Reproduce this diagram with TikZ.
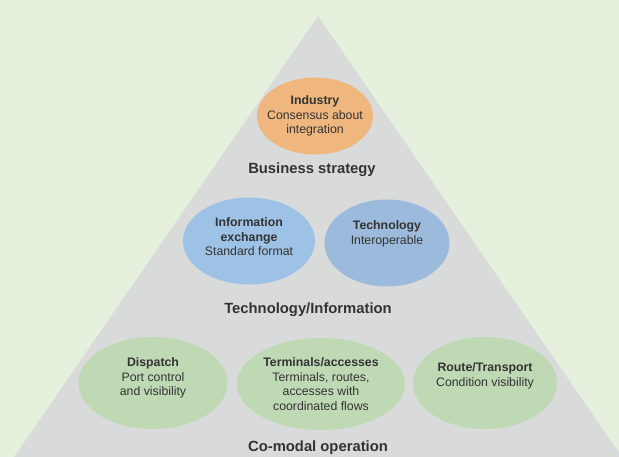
\documentclass[tikz,border=0pt]{standalone}
\usepackage{fontspec}
\setmainfont{Liberation Sans}
\usetikzlibrary{shapes.geometric}
\usetikzlibrary{positioning}
\definecolor{bggreen}{HTML}{E5F1DC}
\definecolor{pyrgray}{HTML}{D9DADA}
\definecolor{indorange}{HTML}{EFB67E}
\definecolor{infoblue}{HTML}{9EC2E6}
\definecolor{techblue}{HTML}{9CBADB}
\definecolor{opgreen}{HTML}{BFD9B5}
\definecolor{txtgray}{HTML}{333333}
\tikzstyle{goal} = [ellipse, draw=none, inner sep=0pt]
\tikzstyle{desc} = [align=center, text=txtgray,
    font=\fontsize{12.3}{14.6}\selectfont]
\tikzstyle{layer} = [text=txtgray, font=\fontsize{14.8}{17}\selectfont\bfseries]

\begin{document}
\begin{tikzpicture}[x=1pt, y=-1pt]
    % Background and pyramid
    \useasboundingbox (0,0) rectangle (619,457);
    \fill[bggreen] (0,0) rectangle (619,457);
    \fill[pyrgray] (318,16) -- (622,457) -- (14,457) -- cycle;
    % Place ellipses
    \node [goal, fill=indorange, minimum width=116pt, minimum height=77pt] (ind) at (315,116) {};
    \node [goal, fill=infoblue, minimum width=132pt, minimum height=87pt] (info) at (249,241) {};
    \node [goal, fill=techblue, minimum width=125pt, minimum height=87pt] (tech) at (387,243) {};
    \node [goal, fill=opgreen, minimum width=149pt, minimum height=92pt] (disp) at (153,383) {};
    \node [goal, fill=opgreen, minimum width=168pt, minimum height=92pt] (term) at (321,384) {};
    \node [goal, fill=opgreen, minimum width=144pt, minimum height=92pt] (route) at (485,383) {};
    % Texts in ellipses
    \node [desc] (ind-txt) at (ind) {\textbf{Industry}\\Consensus about\\integration};
    \node [desc] (info-txt) at ([yshift=4pt]info.center) {\textbf{Information}\\\textbf{exchange}\\Standard format};
    \node [desc] (tech-txt) at ([yshift=9pt]tech.center) {\textbf{Technology}\\Interoperable};
    \node [desc] (disp-txt) at ([yshift=5pt]disp.center) {\textbf{Dispatch}\\Port control\\and visibility};
    \node [desc] (term-txt) at (term) {\textbf{Terminals/accesses}\\Terminals, routes,\\accesses with\\coordinated flows};
    \node [desc] (route-txt) at ([yshift=7pt]route.center) {\textbf{Route/Transport}\\Condition visibility};
    % Layer labels
    \node [layer] (business) at (312,170) {Business strategy};
    \node [layer] (techinfo) at (308,310) {Technology/Information};
    \node [layer] (comodal) at (318,448) {Co-modal operation};
\end{tikzpicture}
\end{document}
